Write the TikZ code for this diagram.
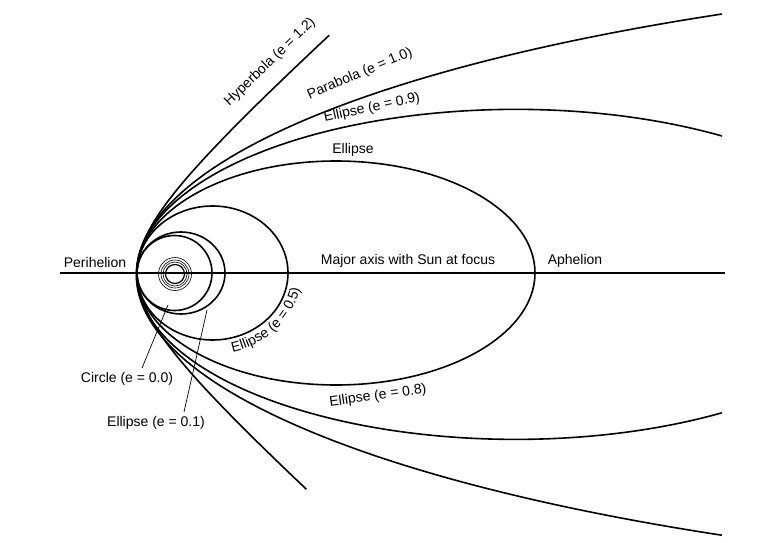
\documentclass[tikz,border=0pt]{standalone}
\usepackage{fontspec}
\setmainfont{Liberation Sans}
\usetikzlibrary{decorations.text}
\begin{document}
\begin{tikzpicture}[x=1pt,y=-1pt,
  orbit/.style={line width=1.6pt},
  lbl/.style={font=\fontsize{14}{15}\selectfont, inner sep=1pt},
  lead/.style={line width=0.7pt}]
\useasboundingbox (0,0) rectangle (757,543);
% axis
\coordinate (axL) at (60,273);
\coordinate (axR) at (725,273);
\draw[line width=1.3pt] (axL) -- (axR);
% sun
\foreach \r in {16.5,14,12} \draw[line width=0.6pt] (175,274) circle (\r);
\draw[line width=1.2pt] (175,274) circle (9.5);
% circle e=0
\draw[orbit] (174.5,273) circle (37.5);
% ellipse e=0.1
\draw[orbit] (181,273) ellipse [x radius=44, y radius=41];
% ellipse e=0.5
\draw[orbit] (212.5,273) ellipse [x radius=75.5, y radius=67];
% ellipse e=0.8
\draw[orbit] (336,273) ellipse [x radius=199, y radius=112];
% ellipse e=0.9
\draw[orbit] (722,136) arc [start angle=-57, end angle=-303, x radius=379, y radius=165];
% parabola
\draw[orbit] (722,14) arc [start angle=-121.6, end angle=-238.4, x radius=1230, y radius=306];
% hyperbola
\draw[orbit] plot[domain=-1.72:1.81, samples=80, variable=\u]
  ({137+90*(cosh(\u)-1)}, {273-80*sinh(\u)});
% labels
\node[lbl] (peri) at (95,262) {Perihelion};
\node[lbl] (major) at (408,261) {Major axis with Sun at focus};
\node[lbl] (aph) at (575,261) {Aphelion};
\node[lbl, rotate=44] (hyp) at (270,62) {Hyperbola (e = 1.2)};
\node[lbl, rotate=23] (par) at (360,74) {Parabola (e = 1.0)};
\node[lbl, rotate=12] (e9) at (372,108) {Ellipse (e = 0.9)};
\node[lbl] (ell) at (353,150) {Ellipse};
\node[lbl, rotate=8] (e8) at (378,396) {Ellipse (e = 0.8)};
\node[lbl] (circ) at (127,379) {Circle (e = 0.0)};
\node[lbl] (e1) at (156,423) {Ellipse (e = 0.1)};
\coordinate (c0) at (168,305);
\coordinate (c1) at (207,310);
\draw[lead] (142,368) -- (c0);
\draw[lead] (184,412) -- (c1);
% curved label e=0.5
\begin{scope}[y=1pt]
\path[decorate, decoration={text along path, text align=center,
  text={|\fontsize{14}{15}\selectfont|Ellipse (e = 0.5)}}]
  (212.5,-273) ++(-98:89 and 81) arc [start angle=-98, end angle=12, x radius=89, y radius=81];
\end{scope}
\end{tikzpicture}
\end{document}
